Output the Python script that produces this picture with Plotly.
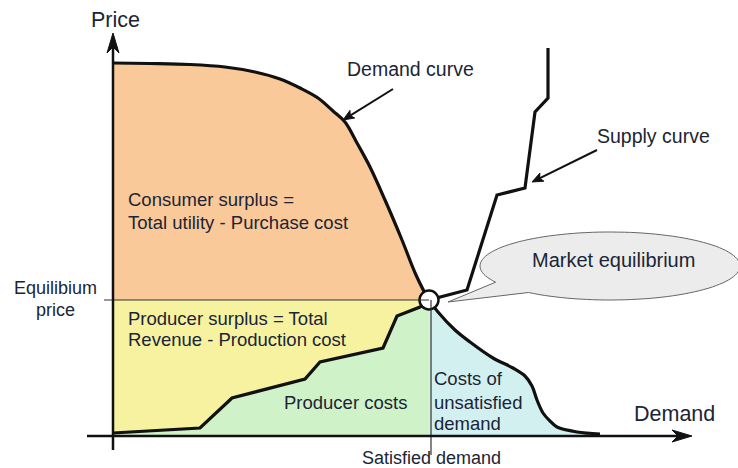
import numpy as np
import plotly.graph_objects as go

# ---- data (demand quantity q, price p; arbitrary units) ----
demand_q = [0, 37, 77, 112, 142, 167, 187, 205, 220, 232, 244, 257, 272, 289, 303, 316,
            325, 342, 357, 380, 400, 412, 419, 424, 430, 437, 444, 464, 487]
demand_p = [373, 372.5, 371.5, 369, 364, 357, 348, 338, 325, 314, 293, 269, 236, 196, 161, 136,
            124, 106, 94, 78, 68, 60, 50, 36, 23, 15, 9, 4, 2]
supply_q = [0, 87, 119, 192, 207, 270, 284, 307, 316, 354, 384, 412, 422, 435, 435]
supply_p = [3, 8, 38, 57, 74, 88, 120, 129, 136, 146, 241, 248, 324, 338, 388]
eq_q, eq_p = 316, 136

TXT = "#1b2535"
FONT = "Liberation Sans, Arial, sans-serif"
ORANGE = "#FAC99A"
YELLOW = "#F6F2A0"
GREEN = "#CFF2C8"
BLUE = "#D3F0F0"

dq = np.array(demand_q, float); dp = np.array(demand_p, float)
sq = np.array(supply_q, float); sp = np.array(supply_p, float)
L = dq <= eq_q; R = dq >= eq_q; S = sq <= eq_q

fig = go.Figure()

def poly(x, y, color):
    fig.add_trace(go.Scatter(x=list(x), y=list(y), fill="toself", fillcolor=color,
                             mode="lines", line=dict(width=0), hoverinfo="skip", showlegend=False))

# consumer surplus
poly(list(dq[L]) + [eq_q, 0], list(dp[L]) + [eq_p, eq_p], ORANGE)
# producer surplus
poly([0, eq_q] + list(sq[S][::-1]), [eq_p, eq_p] + list(sp[S][::-1]), YELLOW)
# producer costs
poly(list(sq[S]) + [eq_q, 0], list(sp[S]) + [0, 0], GREEN)
# unsatisfied demand
poly(list(dq[R]) + [dq[R][-1], eq_q], list(dp[R]) + [0, 0], BLUE)

# reference lines at equilibrium
fig.add_shape(type="line", x0=-9, y0=eq_p, x1=eq_q, y1=eq_p, line=dict(color="#333", width=1.2))
fig.add_shape(type="line", x0=eq_q + 2, y0=eq_p, x1=eq_q + 2, y1=-19, line=dict(color="#333", width=1.2))

# axes
fig.add_shape(type="line", x0=0, y0=-14, x1=0, y1=392, line=dict(color="#111", width=2.5))
fig.add_shape(type="line", x0=-26, y0=0, x1=568, y1=0, line=dict(color="#111", width=2.5))

def head(tx, ty, ux, uy, ln, hw, notch, color="#111"):
    nx, ny = -uy, ux
    bx, by = tx - ln * ux, ty - ln * uy
    mx, my = tx - (ln - notch) * ux, ty - (ln - notch) * uy
    path = (f"M{tx},{ty} L{bx + hw * nx},{by + hw * ny} L{mx},{my} "
            f"L{bx - hw * nx},{by - hw * ny} Z")
    fig.add_shape(type="path", path=path, fillcolor=color, line=dict(color=color, width=1))

head(0, 403, 0, 1, 20, 6, 6)
head(579, 0, 1, 0, 20, 6, 6)

# pointer arrows
def pointer(x0, y0, x1, y1):
    v = np.array([x1 - x0, y1 - y0], float); n = np.linalg.norm(v); u = v / n
    ex, ey = x1 - 6 * u[0], y1 - 6 * u[1]
    fig.add_shape(type="line", x0=x0, y0=y0, x1=ex, y1=ey, line=dict(color="#111", width=2))
    head(x1, y1, u[0], u[1], 11, 4.5, 2.5)

pointer(280, 347, 230, 316)
pointer(484, 286, 419, 254)

# curves
fig.add_trace(go.Scatter(x=demand_q, y=demand_p, mode="lines", line=dict(color="#111", width=3.2, shape="spline", smoothing=1.0),
                         hoverinfo="skip", showlegend=False))
fig.add_trace(go.Scatter(x=supply_q, y=supply_p, mode="lines", line=dict(color="#111", width=3.2),
                         hoverinfo="skip", showlegend=False))

# speech bubble
cx, cy, rx, ry = 497, 170, 130, 34
t = np.radians(np.linspace(231.2, 568.4, 120))
bx = cx + rx * np.cos(t); by = cy + ry * np.sin(t)
path = "M" + " L".join(f"{a:.1f},{b:.1f}" for a, b in zip(bx, by)) + f" L335,134 Z"
fig.add_shape(type="path", path=path, fillcolor="#ECECEC", line=dict(color="#666", width=1))

# equilibrium point
fig.add_trace(go.Scatter(x=[eq_q], y=[eq_p], mode="markers",
                         marker=dict(size=19, color="white", line=dict(color="#111", width=2.5)),
                         hoverinfo="skip", showlegend=False))

def txt(x, y, s, size=18.5, xanchor="center"):
    fig.add_annotation(x=x, y=y, text=s, showarrow=False, xanchor=xanchor, yanchor="middle",
                       font=dict(family=FONT, size=size, color=TXT), align="left")

txt(2, 416, "Price", 21.5)
txt(561, 22, "Demand", 21.5)
txt(297, 367, "Demand curve", 19.5)
txt(540, 300, "Supply curve", 19.5)
txt(500, 176, "Market equilibrium", 20)
txt(13, 237, "Consumer surplus =", 18.5, "left")
txt(13, 214, "Total utility - Purchase cost", 18.5, "left")
txt(13, 118, "Producer surplus = Total", 18.5, "left")
txt(13, 97, "Revenue - Production cost", 18.5, "left")
txt(232, 34, "Producer costs", 18.5)
txt(319, 58, "Costs of", 18.5, "left")
txt(319, 34, "unsatisfied", 18.5, "left")
txt(319, 13, "demand", 18.5, "left")
txt(-58, 148, "Equilibium", 18)
txt(-58, 126, "price", 18)
txt(318, -22, "Satisfied demand", 18)

fig.update_layout(
    width=738, height=468, margin=dict(l=0, r=0, t=0, b=0),
    paper_bgcolor="white", plot_bgcolor="white",
    xaxis=dict(range=[-113, 625], visible=False, fixedrange=True),
    yaxis=dict(range=[-32, 436], visible=False, fixedrange=True),
    showlegend=False,
)
fig.write_html("out.html", config={"displayModeBar": False},
               post_script="document.body.style.margin='0px';document.body.style.overflow='hidden';")
